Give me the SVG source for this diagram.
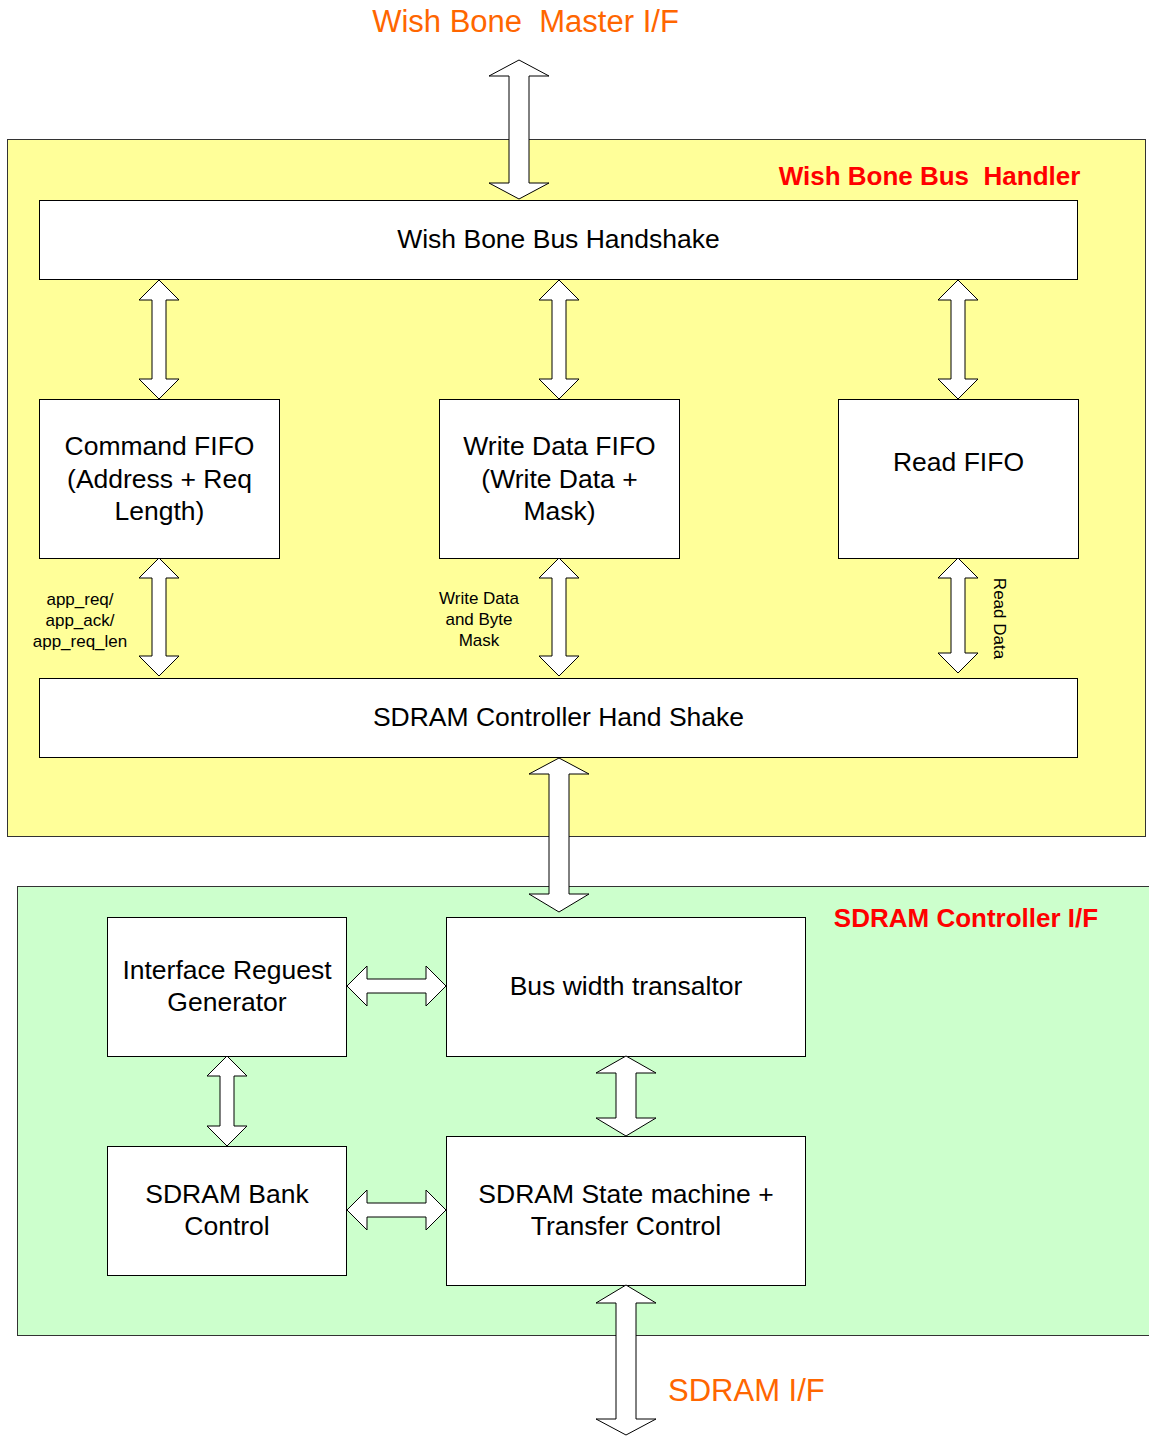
<svg xmlns="http://www.w3.org/2000/svg" width="1149" height="1436" viewBox="0 0 1149 1436">
  <style>
    .box { fill: #ffffff; stroke: #000000; stroke-width: 1; }
    .arrow { fill: #ffffff; stroke: #000000; stroke-width: 1; stroke-linejoin: miter; }
    .t { font-family: "Liberation Sans", Arial, sans-serif; font-size: 26.5px; fill: #000000; text-anchor: middle; }
    .s { font-family: "Liberation Sans", Arial, sans-serif; font-size: 17px; fill: #000000; text-anchor: middle; }
    .title { font-family: "Liberation Sans", Arial, sans-serif; font-size: 26px; font-weight: bold; fill: #ff0000; text-anchor: middle; white-space: pre; }
    .port { font-family: "Liberation Sans", Arial, sans-serif; font-size: 31px; fill: #ff6600; white-space: pre; }
  </style>

  <rect width="1149" height="1436" fill="#ffffff"/>

  <!-- Wishbone bus handler block -->
  <g id="wb-handler">
    <rect x="7.5" y="139.5" width="1138" height="697" fill="#ffff99" stroke="#333333" stroke-width="1"/>
    <text class="title" x="929.5" y="185" xml:space="preserve">Wish Bone Bus  Handler</text>
  </g>

  <!-- SDRAM controller interface block -->
  <g id="sdram-ctrl-if">
    <rect x="17.5" y="886.5" width="1140" height="449" fill="#ccffcc" stroke="#333333" stroke-width="1"/>
    <text class="title" x="966" y="927">SDRAM Controller I/F</text>
  </g>

  <!-- External port labels -->
  <g id="wb-master-if">
    <text class="port" x="525.5" y="32" text-anchor="middle" xml:space="preserve">Wish Bone  Master I/F</text>
  </g>
  <g id="sdram-if">
    <text class="port" x="668" y="1401">SDRAM I/F</text>
  </g>

  <!-- Nodes -->
  <g id="wb-handshake">
    <rect class="box" x="39.5" y="200.5" width="1038" height="79"/>
    <text class="t" x="558.5" y="248">Wish Bone Bus Handshake</text>
  </g>

  <g id="cmd-fifo">
    <rect class="box" x="39.5" y="399.5" width="240" height="159"/>
    <text class="t" x="159.5" y="455">Command FIFO</text>
    <text class="t" x="159.5" y="487.5">(Address + Req</text>
    <text class="t" x="159.5" y="520">Length)</text>
  </g>

  <g id="wdata-fifo">
    <rect class="box" x="439.5" y="399.5" width="240" height="159"/>
    <text class="t" x="559.5" y="455">Write Data FIFO</text>
    <text class="t" x="559.5" y="487.5">(Write Data +</text>
    <text class="t" x="559.5" y="520">Mask)</text>
  </g>

  <g id="read-fifo">
    <rect class="box" x="838.5" y="399.5" width="240" height="159"/>
    <text class="t" x="958.5" y="471">Read FIFO</text>
  </g>

  <g id="sdram-handshake">
    <rect class="box" x="39.5" y="678.5" width="1038" height="79"/>
    <text class="t" x="558.5" y="726">SDRAM Controller Hand Shake</text>
  </g>

  <g id="if-req-gen">
    <rect class="box" x="107.5" y="917.5" width="239" height="139"/>
    <text class="t" x="227" y="979">Interface Reguest</text>
    <text class="t" x="227" y="1011">Generator</text>
  </g>

  <g id="bus-width">
    <rect class="box" x="446.5" y="917.5" width="359" height="139"/>
    <text class="t" x="626" y="995">Bus width transaltor</text>
  </g>

  <g id="bank-ctrl">
    <rect class="box" x="107.5" y="1146.5" width="239" height="129"/>
    <text class="t" x="227" y="1203">SDRAM Bank</text>
    <text class="t" x="227" y="1235">Control</text>
  </g>

  <g id="state-machine">
    <rect class="box" x="446.5" y="1136.5" width="359" height="149"/>
    <text class="t" x="626" y="1203">SDRAM State machine +</text>
    <text class="t" x="626" y="1235">Transfer Control</text>
  </g>

  <!-- Connectors: hollow double-headed block arrows -->
  <g id="connectors">
    <polygon class="arrow" points="519,60 549,76 529,76 529,183 549,183 519,199 489,183 509,183 509,76 489,76"/>

    <polygon class="arrow" points="159,280 179,300 166,300 166,379 179,379 159,399 139,379 152,379 152,300 139,300"/>
    <polygon class="arrow" points="559,280 579,300 566,300 566,379 579,379 559,399 539,379 552,379 552,300 539,300"/>
    <polygon class="arrow" points="958,280 978,300 965,300 965,379 978,379 958,399 938,379 951,379 951,300 938,300"/>

    <polygon class="arrow" points="159,558 179,578 166,578 166,656 179,656 159,676 139,656 152,656 152,578 139,578"/>
    <polygon class="arrow" points="559,558 579,578 566,578 566,656 579,656 559,676 539,656 552,656 552,578 539,578"/>
    <polygon class="arrow" points="958,558 978,578 965,578 965,653 978,653 958,673 938,653 951,653 951,578 938,578"/>

    <polygon class="arrow" points="559,758 589,774 569,774 569,894 589,894 559,912 529,894 549,894 549,774 529,774"/>

    <polygon class="arrow" points="347,986 367,966 367,979 426,979 426,966 446,986 426,1006 426,993 367,993 367,1006"/>
    <polygon class="arrow" points="347,1210 367,1190 367,1203 426,1203 426,1190 446,1210 426,1230 426,1217 367,1217 367,1230"/>

    <polygon class="arrow" points="227,1056 247,1076 234,1076 234,1126 247,1126 227,1146 207,1126 220,1126 220,1076 207,1076"/>
    <polygon class="arrow" points="626,1056 656,1073 636,1073 636,1118 656,1118 626,1136 596,1118 616,1118 616,1073 596,1073"/>

    <polygon class="arrow" points="626,1285 656,1303 636,1303 636,1419 656,1419 626,1435 596,1419 616,1419 616,1303 596,1303"/>

    <!-- connector labels -->
    <text class="s" x="80" y="605">app_req/</text>
    <text class="s" x="80" y="626">app_ack/</text>
    <text class="s" x="80" y="647">app_req_len</text>

    <text class="s" x="479" y="604">Write Data</text>
    <text class="s" x="479" y="625">and Byte</text>
    <text class="s" x="479" y="646">Mask</text>

    <text class="s" transform="translate(994,618.5) rotate(90)">Read Data</text>
  </g>
</svg>
